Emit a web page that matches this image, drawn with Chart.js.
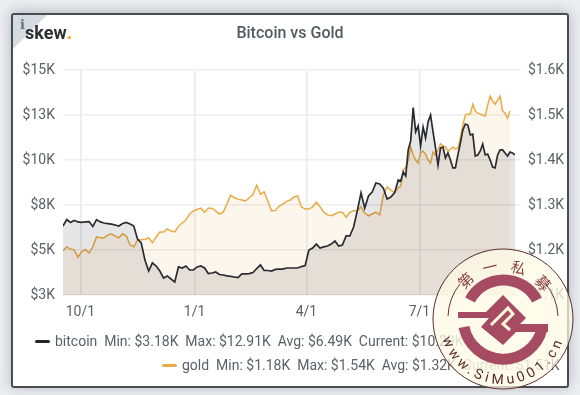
<!DOCTYPE html>
<html>
<head>
<meta charset="utf-8">
<script src="https://cdn.jsdelivr.net/npm/chart.js@4"></script>
<style>
  html, body { margin: 0; padding: 0; width: 580px; height: 395px; overflow: hidden; background: #eceef1; font-family: Roboto, sans-serif; }
  #page { position: absolute; left: 0; top: 0; width: 580px; height: 395px; filter: blur(.35px); }
  #card { position: absolute; left: 11px; top: 13px; width: 554px; height: 371px; background: #fff; border: 2px solid #4b4c4f; border-radius: 3px; box-shadow: 0 -1px 14px rgba(90, 95, 110, .4); }
  #corner { position: absolute; left: 13px; top: 15px; width: 0; height: 0; border-top: 34px solid #d6dbe2; border-right: 34px solid transparent; }
  #info { position: absolute; left: 20px; top: 17px; font: bold 13px "DejaVu Serif", serif; color: #6c6f75; }
  #logo { position: absolute; left: 25px; top: 22px; font-size: 18px; font-weight: 700; color: #2e2f33; }
  #logo b { color: #f5a623; }
  canvas { position: absolute; left: 0; top: 0; }
  .row { position: absolute; font-size: 14px; line-height: 18px; color: #5d6067; white-space: pre; }
  .key { position: absolute; height: 3px; width: 15px; border-radius: 2px; }
  #seal { position: absolute; left: 425px; top: 241px; }
</style>
</head>
<body>
<div id="page">
<div id="card"></div>
<div id="corner"></div>
<div id="info">i</div>
<div id="logo">skew<b>.</b></div>
<canvas id="chart" width="580" height="395"></canvas>
<div class="key" style="left:35px;top:340px;background:#24252b"></div>
<div class="row" id="row0" style="left:55px;top:332px"></div>
<div class="key" style="left:162px;top:364px;background:#e9ab45"></div>
<div class="row" id="row1" style="left:182px;top:356px"></div>

<svg id="seal" width="156" height="156" viewBox="-78 -78 156 156">
  <defs>
    <radialGradient id="halo">
      <stop offset="0.8" stop-color="#fffbe6" stop-opacity=".82"/>
      <stop offset="1" stop-color="#fffbe6" stop-opacity=".7"/>
    </radialGradient>
    <path id="lower" d="M -63 2 A 63 63 0 0 0 63 2"/>
  </defs>
  <circle r="70" fill="url(#halo)" stroke="#5a2b2c" stroke-width="1"/>
  <g fill="#8c3f45" font-family="'Noto Sans CJK SC'" font-size="15" text-anchor="middle">
    <text transform="rotate(-44) translate(0,-48)">第</text>
    <text transform="rotate(-14) translate(0,-48)">一</text>
    <text transform="rotate(17) translate(0,-48)">私</text>
    <text transform="rotate(48) translate(0,-48)">募</text>
  </g>
  <text fill="#5a2b2c" font-family="Roboto" font-size="14" text-anchor="middle" letter-spacing="3.8"><textPath href="#lower" startOffset="50%">www.SiMu001.cn</textPath></text>
  <path d="M -55 -3 A 55 55 0 0 1 -43 -35 M 42 -36 A 55 55 0 0 1 55 -3" fill="none" stroke="#6a2f35" stroke-width="1"/>
  <g fill="none" stroke="#a64b62" stroke-width="11" stroke-linecap="butt">
    <path d="M -33 -19 A 38 38 0 0 1 34 -19"/>
    <path d="M -39 8 A 40 40 0 0 0 39 10"/>
  </g>
  <path d="M -45 -7 L -17 -7 L 0 -24 L 23 -1 L 17 5 L 45 5 L 45 13 L 13 13 L 0 26 L -22 8 L -14 -1 L -45 -1 Z" fill="#a64b62"/>
  <path d="M -12 6 L 5 -11 L 10 -5 L 0 5 L 7 11" fill="none" stroke="#fff7dc" stroke-width="3"/>
</svg>
</div>

<script>
const chartTitle = 'Bitcoin vs Gold';
const tickDays = [14, 106, 196, 287];
const tickLabels = ['10/1', '1/1', '4/1', '7/1'];
const legendRows = [
  'bitcoin  Min: $3.18K  Max: $12.91K  Avg: $6.49K  Current: $10.29K',
  'gold  Min: $1.18K  Max: $1.54K  Avg: $1.32K  Current: $1.51K',
];

// days since 17 Sep 2018
const days = [
  0, 3, 6, 9, 12, 15, 18, 21, 24, 27, 30, 33, 36, 39, 42, 45, 48, 51, 54, 57, 60, 63, 66, 69, 72, 75, 78, 81, 84, 87,
  90, 93, 96, 99, 102, 105, 108, 111, 114, 117, 120, 123, 126, 129, 132, 135, 138, 141, 144, 147, 150, 153, 156, 159, 162, 165, 168, 171, 174, 177,
  180, 183, 186, 189, 192, 195, 198, 201, 204, 207, 210, 213, 216, 219, 222, 225, 228, 231, 234, 237, 240, 243, 246, 249, 252, 255, 258, 261, 264, 267,
  270, 272, 274, 276, 278, 280, 282, 284, 286, 288, 290, 292, 294, 296, 298, 300, 302, 304, 306, 308, 310, 312, 314, 316, 318, 320, 322, 324, 326, 328,
  330, 332, 334, 336, 338, 340, 342, 344, 346, 348, 350, 352, 354, 356, 358, 360, 362, 364,
];
const bitcoin = [
  6.33, 6.69, 6.53, 6.64, 6.56, 6.53, 6.56, 6.58, 6.31, 6.69, 6.56, 6.5, 6.47, 6.44, 6.39, 6.33, 6.47, 6.53, 6.44, 6.33, 5.61, 5.39, 4.44, 3.83, 4.28, 4.11, 3.83, 3.44, 3.56, 3.39,
  3.22, 4.06, 4.0, 4.11, 3.89, 3.89, 4.06, 4.11, 4.0, 3.69, 3.72, 3.78, 3.64, 3.61, 3.56, 3.53, 3.5, 3.47, 3.67, 3.67, 3.69, 3.75, 3.97, 4.17, 3.86, 3.86, 3.83, 3.92, 3.94, 3.94,
  4.0, 4.0, 4.0, 4.0, 4.08, 4.14, 5.0, 5.11, 5.33, 5.11, 5.17, 5.22, 5.33, 5.5, 5.22, 5.28, 5.78, 5.78, 6.28, 7.17, 8.17, 7.33, 8.0, 8.22, 8.72, 8.67, 8.44, 7.83, 7.94, 8.17,
  8.89, 8.83, 9.33, 9.11, 10.56, 11.06, 12.91, 11.56, 11.89, 10.78, 11.83, 11.22, 12.11, 12.5, 11.56, 10.67, 9.72, 10.67, 10.72, 10.11, 10.39, 10.0, 9.56, 9.56, 10.28, 10.94, 11.67, 12.0, 11.94, 11.39,
  11.44, 10.22, 10.28, 10.5, 10.89, 10.28, 10.33, 10.0, 9.61, 9.56, 10.28, 10.56, 10.56, 10.39, 10.22, 10.44, 10.39, 10.29,
];
const gold = [
  1.198, 1.207, 1.202, 1.2, 1.184, 1.196, 1.201, 1.193, 1.207, 1.229, 1.227, 1.227, 1.233, 1.236, 1.231, 1.227, 1.236, 1.231, 1.211, 1.207, 1.222, 1.223, 1.224, 1.227, 1.216, 1.229, 1.24, 1.24, 1.247, 1.242,
  1.24, 1.253, 1.26, 1.267, 1.28, 1.287, 1.29, 1.293, 1.284, 1.293, 1.293, 1.287, 1.28, 1.284, 1.302, 1.322, 1.316, 1.313, 1.311, 1.309, 1.316, 1.324, 1.344, 1.324, 1.329, 1.309, 1.287, 1.288, 1.297, 1.302,
  1.308, 1.311, 1.318, 1.32, 1.296, 1.291, 1.291, 1.296, 1.306, 1.296, 1.284, 1.278, 1.276, 1.28, 1.284, 1.284, 1.273, 1.284, 1.287, 1.287, 1.296, 1.282, 1.276, 1.28, 1.284, 1.278, 1.322, 1.34, 1.333, 1.327,
  1.338, 1.342, 1.378, 1.384, 1.398, 1.429, 1.411, 1.4, 1.393, 1.416, 1.42, 1.413, 1.4, 1.393, 1.418, 1.411, 1.422, 1.436, 1.431, 1.429, 1.42, 1.424, 1.429, 1.424, 1.427, 1.449, 1.478, 1.5, 1.502, 1.502,
  1.524, 1.509, 1.504, 1.502, 1.5, 1.498, 1.522, 1.542, 1.531, 1.524, 1.533, 1.542, 1.509, 1.504, 1.493, 1.509, null, null,
];

document.getElementById('row0').textContent = legendRows[0];
document.getElementById('row1').textContent = legendRows[1];

const gridColor = '#eeeef0';
const tickFont = { family: 'Roboto', size: 14 };
const tickColor = '#5d6067';

const toPoints = (values) => values.map((v, i) => ({ x: days[i], y: v }));

new Chart(document.getElementById('chart'), {
  type: 'line',
  data: {
    datasets: [
      {
        label: 'bitcoin',
        data: toPoints(bitcoin),
        yAxisID: 'y',
        borderColor: '#2a2b32',
        backgroundColor: 'rgba(27,27,35,0.11)',
        borderWidth: 1.7,
        pointRadius: 0,
        tension: 0,
        fill: 'origin',
      },
      {
        label: 'gold',
        data: toPoints(gold),
        yAxisID: 'y1',
        borderColor: '#e9ab45',
        backgroundColor: 'rgba(232,170,70,0.1)',
        borderWidth: 1.5,
        pointRadius: 0,
        tension: 0,
        fill: 'origin',
      },
    ],
  },
  options: {
    responsive: false,
    animation: false,
    layout: { padding: { top: 24, bottom: 70 } },
    plugins: {
      legend: { display: false },
      tooltip: { enabled: false },
      title: {
        display: true,
        text: chartTitle,
        color: '#55585f',
        font: { family: 'Roboto', size: 16, weight: '500' },
        padding: { top: 0, bottom: 26.8 },
      },
    },
    scales: {
      x: {
        type: 'linear',
        min: 0,
        max: 364,
        afterBuildTicks: (axis) => {
          axis.ticks = tickDays.map((value) => ({ value }));
        },
        afterFit: (axis) => {
          axis.height = 30;
        },
        ticks: {
          autoSkip: false,
          maxRotation: 0,
          font: tickFont,
          color: tickColor,
          padding: 9,
          callback: (value) => tickLabels[tickDays.indexOf(value)],
        },
        grid: { color: '#e9e9eb', lineWidth: 1.5, drawTicks: false },
        border: { display: false },
      },
      y: {
        position: 'left',
        min: 2.5,
        max: 15,
        afterFit: (axis) => {
          axis.width = 63;
        },
        ticks: {
          stepSize: 2.5,
          font: tickFont,
          color: tickColor,
          padding: 8,
          callback: (value) => `$${Math.round(value)}K`,
        },
        grid: { color: gridColor, lineWidth: 1.5, drawTicks: false },
        border: { display: false },
      },
      y1: {
        position: 'right',
        min: 1.1,
        max: 1.6,
        afterFit: (axis) => {
          axis.width = 65;
        },
        ticks: {
          stepSize: 0.1,
          font: tickFont,
          color: tickColor,
          padding: 7,
          callback: (value) => `$${value.toFixed(1)}K`,
        },
        grid: { color: gridColor, lineWidth: 1.5, drawOnChartArea: false, tickLength: 6 },
        border: { display: false },
      },
    },
  },
});
</script>
</body>
</html>
